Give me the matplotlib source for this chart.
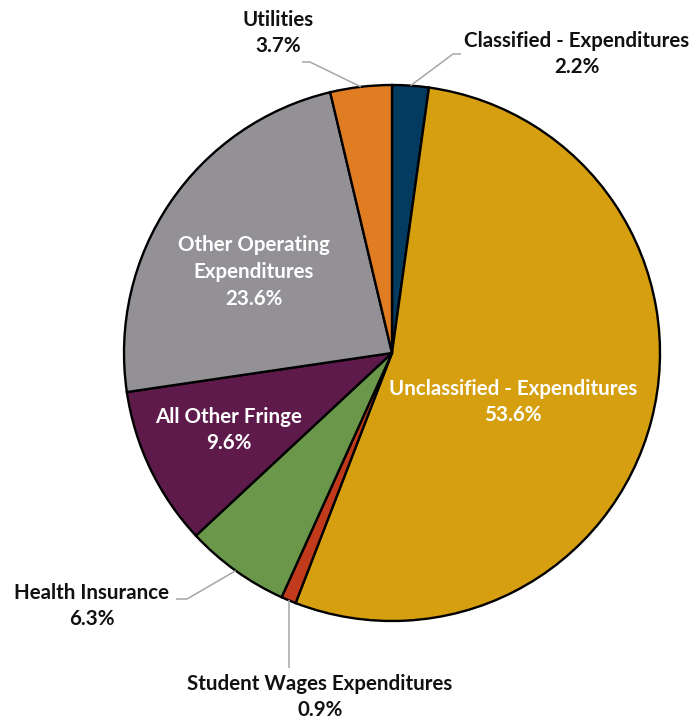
import numpy as np
import matplotlib
matplotlib.use("Agg")
import matplotlib.pyplot as plt

categories = ["Classified - Expenditures", "Unclassified - Expenditures",
              "Student Wages Expenditures", "Health Insurance",
              "All Other Fringe", "Other Operating\nExpenditures", "Utilities"]
values = [2.2, 53.6, 0.9, 6.3, 9.6, 23.6, 3.7]
pct_labels = ["2.2%", "53.6%", "0.9%", "6.3%", "9.6%", "23.6%", "3.7%"]
colors = ["#033A60", "#D59F10", "#C23A1C", "#6A974A", "#5E1A4B", "#939196", "#E07D22"]

W, H = 695, 722
fig = plt.figure(figsize=(W / 100, H / 100), dpi=100)
ax = fig.add_axes([0, 0, 1, 1])

cx, cy, R = 392, H - 353, 268
wedges, _ = ax.pie(values, colors=colors, startangle=90, counterclock=False,
                   center=(cx, cy), radius=R,
                   wedgeprops=dict(edgecolor="black", linewidth=1.7))
ax.set_xlim(0, W)
ax.set_ylim(0, H)
ax.set_aspect("equal")
ax.axis("off")

font = dict(family=["Lato", "DejaVu Sans"], fontweight="bold", fontsize=14.8,
            ha="center", va="center", linespacing=1.42)

def px(x, y):
    return x, H - y

# label positions (pixel coords, y from top), text color
label_pos = {
    0: ((577, 54), "#111111"),
    1: ((513, 402), "white"),
    2: ((320, 697), "#111111"),
    3: ((92, 606), "#111111"),
    4: ((229, 430), "white"),
    5: ((254, 272), "white"),
    6: ((278, 33), "#111111"),
}
for i, ((x, y), c) in label_pos.items():
    ax.text(*px(x, y), categories[i] + "\n" + pct_labels[i], color=c, **font)

# leader lines
def wedge_mid(i):
    w = wedges[i]
    a = np.deg2rad((w.theta1 + w.theta2) / 2)
    return cx + R * np.cos(a), cy + R * np.sin(a)

leaders = {
    0: [(453, 54), (461, 54)],
    6: [(310, 62), (302, 62)],
    3: [(187, 599), (176, 599)],
    2: [(289, 668)],
}
for i, pts in leaders.items():
    sx, sy = wedge_mid(i)
    xs = [sx] + [p[0] for p in pts]
    ys = [sy] + [H - p[1] for p in pts]
    if i == 2:
        xs[1] = sx
    ax.plot(xs, ys, color="#A6A6A6", linewidth=1.1, solid_capstyle="butt")

fig.savefig("out.png", dpi=100)
